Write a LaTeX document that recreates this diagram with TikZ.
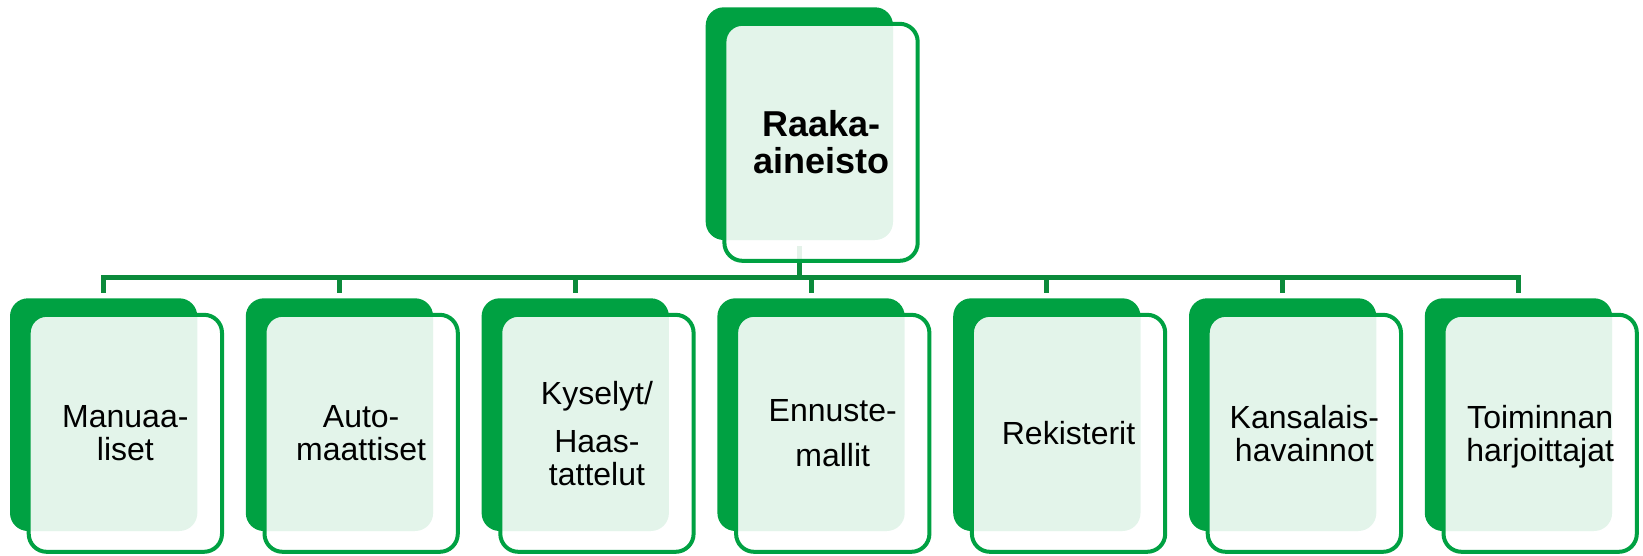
\documentclass[tikz,border=0pt]{standalone}
\usepackage{fontspec}
\setmainfont{Liberation Sans}
\definecolor{leaf}{HTML}{00A142}
\definecolor{stem}{HTML}{0B8A3B}
\begin{document}
\begin{tikzpicture}[x=1pt,y=-1pt,
  back/.style={fill=leaf, rounded corners=18pt, minimum width=187.3pt,
    minimum height=232.7pt, inner sep=0pt, outer sep=0pt},
  front/.style={draw=leaf, line width=4pt, fill=white, fill opacity=0.89,
    text opacity=1, rounded corners=18pt, minimum width=193.3pt,
    minimum height=237pt, inner sep=0pt, align=center, text depth=0pt,
    font=\fontsize{32}{33}\selectfont},
  conn/.style={draw=stem, line width=5pt},
]
\useasboundingbox (0,0) rectangle (1643,555);

% solid green cards behind
\node[back] (top-b) at (799.35,123.65) {};
\foreach \i in {1,...,7}
  \node[back] (b\i) at ({103.65+(\i-1)*235.8},414.65) {};

% tree connectors
\path (top-b.south) ++(0,37.5) coordinate (hub);
\draw[conn] ([yshift=5.6pt]b1.north) |- (hub) -| ([yshift=5.6pt]b7.north);
\foreach \i in {2,...,6}
  \draw[conn] ([yshift=5.6pt]b\i.north) -- (b\i.north |- hub);
\draw[conn, shorten <=6pt] (top-b.south) -- (hub);

% translucent framed cards with labels
\node[front, font=\bfseries\fontsize{36}{37}\selectfont] (top-f)
  at ([shift={(21.7,18.65)}]top-b.center) {Raaka-\\aineisto};
\node[front] (f1) at ([shift={(21.7,18.65)}]b1.center) {Manuaa-\\liset};
\node[front] (f2) at ([shift={(21.7,18.65)}]b2.center) {Auto-\\maattiset};
\node[front] (f3) at ([shift={(21.7,18.65)}]b3.center) {Kyselyt/\\[14.7pt]Haas-\\tattelut};
\node[front] (f4) at ([shift={(21.7,18.65)}]b4.center) {Ennuste-\\[12pt]mallit};
\node[front] (f5) at ([shift={(21.7,18.65)}]b5.center) {Rekisterit};
\node[front] (f6) at ([shift={(21.7,18.65)}]b6.center) {Kansalais-\\havainnot};
\node[front] (f7) at ([shift={(21.7,18.65)}]b7.center) {Toiminnan\\harjoittajat};
\end{tikzpicture}
\end{document}
